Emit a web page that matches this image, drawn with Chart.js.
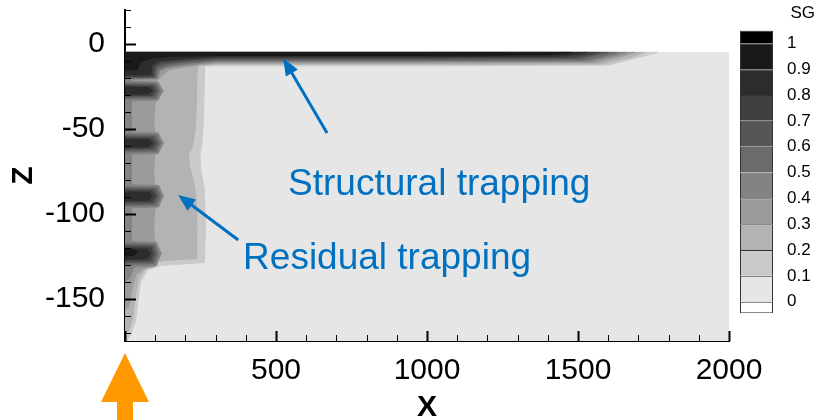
<!DOCTYPE html>
<html>
<head>
<meta charset="utf-8">
<script src="https://cdn.jsdelivr.net/npm/chart.js@4/dist/chart.umd.min.js"></script>
<style>
  html, body { margin: 0; padding: 0; background: #fff; }
  #wrap { position: relative; width: 821px; height: 420px; }
  #main { position: absolute; left: 0; top: 0; }
  #bar { position: absolute; left: 730px; top: 0; }
</style>
</head>
<body>
<div id="wrap">
  <canvas id="main" width="821" height="420"></canvas>
  <canvas id="bar" width="91" height="420"></canvas>
</div>
<script>
const FONT = "'Liberation Sans', Arial, sans-serif";
const BLUE = '#0070C0';

// axes
const xTicks = [0,100,200,300,400,500,600,700,800,900,1000,1100,1200,1300,1400,1500,1600,1700,1800,1900,2000];
const xLabels = [500,1000,1500,2000];
const zTicks = [20,10,0,-10,-20,-30,-40,-50,-60,-70,-80,-90,-100,-110,-120,-130,-140,-150,-160,-170];
const zLabels = [0,-50,-100,-150];

// SG legend: under, 0-0.1 ... 0.9-1, over
const sgLevels = [0,0.1,0.2,0.3,0.4,0.5,0.6,0.7,0.8,0.9,1];
const sgColors = ['#ffffff','#e6e6e6','#cacaca','#b3b3b3','#9b9b9b','#838383','#6b6b6b','#565656','#404040','#2c2c2c','#191919','#000000'];

// contour regions SG > level, as [x, z] outlines
const band0 = [[0,-5],[2000,-5],[2000,-180],[-20,-180],[-20,-5]];
const band1 = [[0,-5],[1765,-5],[1700,-8],[1600,-12.5],[1000,-12.9],[300,-12.9],[264,-13],[262,-25],[260,-45],[255,-58],[248,-66],[252,-75],[262,-85],[265,-100],[265,-115],[263,-128.8],[200,-129.5],[120,-130.5],[75,-133],[52,-140],[42,-152],[35,-163],[20,-171],[5,-175],[-20,-176],[-20,-5]];
const band2 = [[0,-5],[1720,-5],[1680,-7.5],[1580,-11.8],[1000,-12],[300,-12],[240,-12.5],[238,-20],[236,-35],[233,-50],[224,-60],[210,-65],[213,-72],[226,-80],[235,-90],[238,-105],[238,-118],[236,-126.5],[150,-127.3],[110,-128],[70,-132],[45,-138],[33,-150],[25,-162],[10,-170],[-20,-172],[-20,-5]];
const band3 = [[0,-5],[1690,-5],[1650,-7],[1560,-11],[1000,-11.2],[300,-11.2],[200,-13.5],[150,-15],[125,-18],[110,-21],[100,-22],[128,-27.5],[100,-35],[95,-45],[97,-51],[130,-58.5],[98,-66],[95,-75],[98,-82],[130,-89.5],[100,-97],[95,-105],[97,-115],[122,-123.5],[100,-131],[60,-132.5],[35,-136],[22,-145],[12,-155],[-20,-158],[-20,-5]];
const band4 = [[0,-5],[1660,-5],[1620,-7],[1540,-10.2],[1000,-10.5],[300,-10.5],[200,-12.5],[140,-14],[115,-16],[108,-20.5],[20,-20.8],
  [20,-22],[110,-22.5],[124,-27.5],[110,-33],[20,-33.5],
  [20,-52],[110,-52.5],[126,-58.5],[110,-64.5],[20,-65],
  [20,-83],[112,-83.5],[126,-89.5],[112,-96],[20,-96.5],
  [20,-116.5],[104,-117],[118,-123.5],[104,-130.5],[30,-131.5],[15,-138],[-20,-142],[-20,-5]];
const band5 = [[0,-5],[1630,-5],[1590,-7],[1520,-9.5],[1000,-9.8],[300,-9.8],[200,-11.5],[140,-13],[110,-15],[103,-20],[-20,-20.3],
  [-20,-22.8],[104,-23.3],[116,-27.5],[104,-32],[-20,-32.3],
  [-20,-53.2],[104,-53.6],[118,-58.5],[104,-63.4],[-20,-63.8],
  [-20,-84.2],[106,-84.6],[118,-89.5],[106,-95],[-20,-95.4],
  [-20,-117.5],[98,-118],[110,-123.5],[98,-129.5],[-20,-130],[-20,-5]];
const band6 = [[0,-5],[1600,-5],[1560,-6.5],[1500,-8.6],[1000,-9],[300,-9],[200,-10.5],[130,-12],[104,-14],[98,-19.5],[-20,-19.8],
  [-20,-23.8],[98,-24.2],[108,-27.5],[98,-31],[-20,-31.3],
  [-20,-54.3],[97,-54.7],[110,-58.5],[97,-62.3],[-20,-62.7],
  [-20,-85.2],[99,-85.6],[110,-89.5],[99,-94],[-20,-94.4],
  [-20,-118.5],[92,-119],[102,-123.5],[92,-128.5],[-20,-129],[-20,-5]];
const band7 = [[0,-5],[1570,-5],[1540,-6.2],[1480,-7.8],[1000,-8.2],[300,-8.2],[200,-9.5],[120,-11],[98,-13],[93,-19],[-20,-19.2],
  [-20,-24.6],[90,-25],[100,-27.5],[90,-30.2],[-20,-30.5],
  [-20,-55.2],[89,-55.6],[101,-58.5],[89,-61.4],[-20,-61.8],
  [-20,-86.2],[91,-86.5],[101,-89.5],[91,-93],[-20,-93.3],
  [-20,-119.5],[85,-120],[94,-123.5],[85,-127.5],[-20,-128],[-20,-5]];
const band8 = [[0,-5],[1530,-5],[1500,-6],[1450,-7],[1000,-7.5],[300,-7.5],[200,-8.5],[110,-10],[90,-12],[85,-18],[-20,-18.3],
  [-20,-25.4],[78,-25.7],[90,-27.5],[78,-29.4],[-20,-29.7],
  [-20,-56.2],[77,-56.5],[90,-58.5],[77,-60.5],[-20,-60.8],
  [-20,-87.2],[80,-87.5],[90,-89.5],[80,-92],[-20,-92.3],
  [-20,-120.5],[74,-121],[84,-123.5],[74,-126.5],[-20,-127],[-20,-5]];
const band9 = [[0,-5],[1480,-5],[1400,-6.3],[1000,-6.8],[300,-6.8],[150,-7.3],[80,-8.5],[50,-11],[40,-15],[-20,-15.5],
  [-20,-121],[30,-121.3],[42,-122.5],[30,-124.5],[-20,-125],[-20,-5]];
const bands = [band0, band1, band2, band3, band4, band5, band6, band7, band8, band9];

// annotations (data coords)
const noteText = ['Structural trapping', 'Residual trapping'];
const noteX = [540, 391];
const noteZ = [-89, -132.8];
const arrowFromX = [669, 375];
const arrowFromZ = [-52.5, -115.5];
const arrowToX = [524, 176];
const arrowToZ = [-8.5, -89];

const innerTicks = {
  id: 'innerTicks',
  afterDraw(chart) {
    const {ctx, chartArea: a, scales: {x, y}} = chart;
    ctx.save();
    ctx.strokeStyle = '#000';
    x.ticks.forEach(t => {
      const major = t.value % 500 === 0;
      const px = Math.round(x.getPixelForValue(t.value)) + 0.5;
      ctx.lineWidth = major ? 2 : 1;
      ctx.beginPath(); ctx.moveTo(px, a.bottom); ctx.lineTo(px, a.bottom - (major ? 10 : 6)); ctx.stroke();
    });
    y.ticks.forEach(t => {
      const major = zLabels.includes(t.value);
      const py = Math.round(y.getPixelForValue(t.value)) + 0.5;
      ctx.lineWidth = major ? 2 : 1;
      ctx.beginPath(); ctx.moveTo(a.left, py); ctx.lineTo(a.left + (major ? 11 : 6), py); ctx.stroke();
    });
    ctx.restore();
  }
};

const notes = {
  id: 'notes',
  afterDatasetsDraw(chart) {
    const {ctx, chartArea: a, scales: {x, y}} = chart;
    ctx.save();
    ctx.fillStyle = BLUE; ctx.strokeStyle = BLUE;
    ctx.font = '37px ' + FONT;
    ctx.textBaseline = 'alphabetic';
    noteText.forEach((t, i) => ctx.fillText(t, x.getPixelForValue(noteX[i]), y.getPixelForValue(noteZ[i])));
    arrowFromX.forEach((_, i) => {
      const x1 = x.getPixelForValue(arrowFromX[i]), y1 = y.getPixelForValue(arrowFromZ[i]);
      const x2 = x.getPixelForValue(arrowToX[i]), y2 = y.getPixelForValue(arrowToZ[i]);
      const c = Math.cos(Math.atan2(y2 - y1, x2 - x1)), s = Math.sin(Math.atan2(y2 - y1, x2 - x1));
      ctx.lineWidth = 3;
      ctx.beginPath(); ctx.moveTo(x1, y1); ctx.lineTo(x2 - 10 * c, y2 - 10 * s); ctx.stroke();
      ctx.beginPath();
      ctx.moveTo(x2, y2);
      ctx.lineTo(x2 - 17 * c + 7 * s, y2 - 17 * s - 7 * c);
      ctx.lineTo(x2 - 17 * c - 7 * s, y2 - 17 * s + 7 * c);
      ctx.closePath(); ctx.fill();
    });
    // injection arrow under x = 0
    const x0 = x.getPixelForValue(0), tip = a.bottom + 12;
    ctx.fillStyle = '#FF9900';
    ctx.beginPath();
    ctx.moveTo(x0, tip);
    ctx.lineTo(x0 + 24, tip + 49); ctx.lineTo(x0 + 8, tip + 49); ctx.lineTo(x0 + 8, tip + 80);
    ctx.lineTo(x0 - 8, tip + 80); ctx.lineTo(x0 - 8, tip + 49); ctx.lineTo(x0 - 24, tip + 49);
    ctx.closePath(); ctx.fill();
    ctx.restore();
  }
};

new Chart(document.getElementById('main'), {
  type: 'scatter',
  data: {
    datasets: bands.map((pts, k) => ({
      data: pts.map(p => ({x: p[0], y: p[1]})),
      showLine: true, fill: 'shape',
      backgroundColor: sgColors[k + 1], borderColor: sgColors[k + 1], borderWidth: 1,
      pointRadius: 0, order: 20 - k
    }))
  },
  options: {
    responsive: false, animation: false, events: [], devicePixelRatio: 1,
    layout: {padding: {left: 0, top: 10, right: 92, bottom: 0}},
    plugins: {legend: {display: false}, tooltip: {enabled: false}},
    scales: {
      x: {
        type: 'linear', min: 0, max: 2000, z: 1,
        afterBuildTicks: s => { s.ticks = xTicks.map(v => ({value: v})); },
        afterFit: s => { s.height = 79; s.paddingLeft = 0; s.paddingRight = 0; },
        grid: {display: false, drawTicks: false},
        border: {display: true, color: '#000', width: 2},
        ticks: {autoSkip: false, maxRotation: 0, padding: 12, color: '#000', font: {family: FONT, size: 30},
          callback: v => xLabels.includes(v) ? String(v) : ''},
        title: {display: true, text: 'X', color: '#000', padding: 0,
          font: {family: FONT, size: 30, weight: 'bold', lineHeight: 0.8}}
      },
      y: {
        type: 'linear', min: -175, max: 20, z: 1,
        afterBuildTicks: s => { s.ticks = zTicks.map(v => ({value: v})); },
        afterFit: s => { s.width = 125; s.paddingTop = 0; s.paddingBottom = 0; },
        grid: {display: false, drawTicks: false},
        border: {display: true, color: '#000', width: 2},
        ticks: {autoSkip: false, padding: 20, color: '#000', font: {family: FONT, size: 30},
          callback: v => zLabels.includes(v) ? String(v) : ''},
        title: {display: true, text: 'Z', color: '#000', padding: {top: 12, bottom: 0},
          font: {family: FONT, size: 30, weight: 'bold', lineHeight: 0.8}}
      }
    }
  },
  plugins: [notes, innerTicks]
});

// colour bar
const BAR_MIN = -0.045, BAR_MAX = 1.05;
new Chart(document.getElementById('bar'), {
  type: 'bar',
  data: {
    labels: ['SG'],
    datasets: sgColors.map((c, i) => ({
      data: [[i === 0 ? BAR_MIN : sgLevels[i - 1], i === sgColors.length - 1 ? BAR_MAX : sgLevels[i]]],
      backgroundColor: c, borderColor: '#333',
      borderWidth: {top: 1, left: 1, right: 1, bottom: i === 0 ? 1 : 0},
      borderSkipped: false, inflateAmount: 0, barPercentage: 1, categoryPercentage: 1
    }))
  },
  options: {
    responsive: false, animation: false, events: [], devicePixelRatio: 1,
    layout: {padding: {left: 10, right: 6, top: 0, bottom: 106.7}},
    plugins: {
      legend: {display: false}, tooltip: {enabled: false},
      title: {display: true, text: 'SG', align: 'end', color: '#000', padding: {top: 3, bottom: 7},
        font: {family: FONT, size: 17, weight: 'normal', lineHeight: 1.2}}
    },
    scales: {
      x: {stacked: true, display: false},
      y: {
        min: BAR_MIN, max: BAR_MAX, position: 'right',
        afterBuildTicks: s => { s.ticks = sgLevels.map(v => ({value: v})); },
        afterFit: s => { s.width = 42; s.paddingTop = 0; s.paddingBottom = 0; },
        grid: {display: false, drawTicks: false}, border: {display: false},
        ticks: {padding: 14, color: '#000', font: {family: FONT, size: 17}, callback: v => String(v)}
      }
    }
  }
});
</script>
</body>
</html>
